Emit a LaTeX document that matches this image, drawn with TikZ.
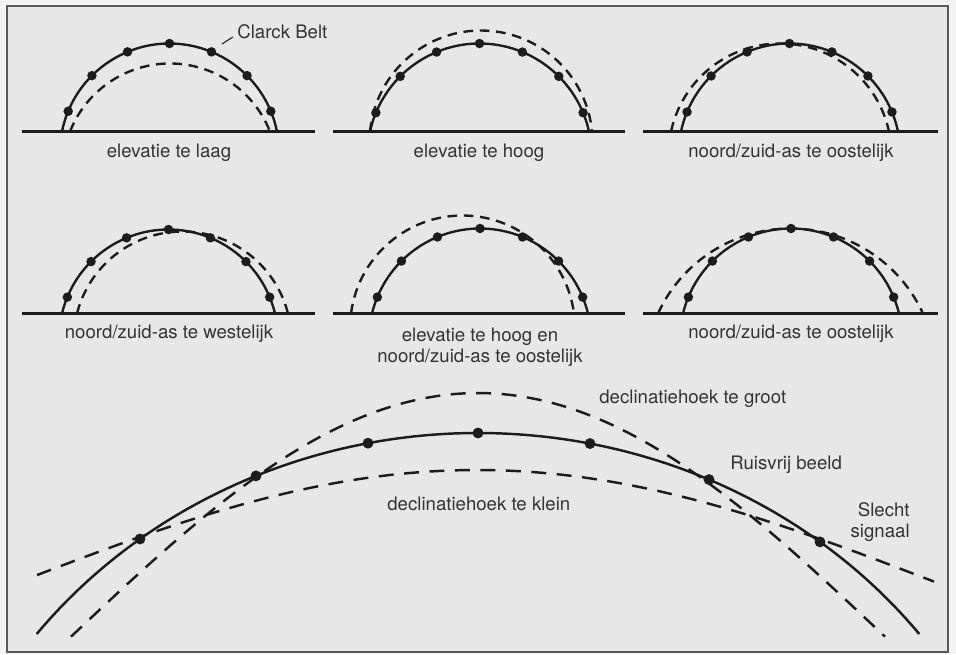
\documentclass[tikz,border=0pt]{standalone}
\usepackage{fontspec}
\setmainfont{TeX Gyre Heros}
\definecolor{Paper}{HTML}{E7E7E7}
\definecolor{Margin}{HTML}{F3F3F3}
\definecolor{Ink}{HTML}{1C1C1C}
\definecolor{Frame}{HTML}{5A5A5A}
% arc of a circle standing on a ground line: style, centre x, base y, half width, height
\newcommand{\orbit}[5]{%
  \pgfmathsetmacro{\orbR}{(#4/#5*#4+#5)/2}%
  \pgfmathsetmacro{\orbT}{atan((\orbR-#5)/#4)}%
  \draw[#1] (#2-#4,#3) arc[start angle=180+\orbT,end angle=360-\orbT,radius=\orbR];}
% the belt itself with its satellites
\newcommand{\belt}[4]{%
  \orbit{belt}{#1}{#2}{#3}{#4}%
  \foreach \ang in {202.5,225,...,337.5}
    \fill[Ink] (#1,#2+\orbR-#4) ++(\ang:\orbR) circle[radius=2.7pt];}
\begin{document}
\begin{tikzpicture}[x=0.02cm,y=-0.02cm,
belt/.style={draw=Ink,line width=1.35pt},
offset/.style={draw=Ink,line width=1.35pt,dash pattern=on 5.5pt off 3.8pt},
wide offset/.style={draw=Ink,line width=1.4pt,dash pattern=on 8.5pt off 6pt},
ground/.style={draw=Ink,line width=1.2pt},
lbl/.style={text=Ink!90,font=\fontsize{10.6}{11.4}\selectfont,inner sep=0pt}]
\useasboundingbox (0,0) rectangle (956,654);
\fill[Margin] (0,0) rectangle (956,654);
\filldraw[fill=Paper,draw=Frame,line width=0.6pt] (7,6) rectangle (948,652);
% ground lines of the six small panels
\foreach \y in {131.5,313.5}{
  \draw[ground] (22,\y) -- (315,\y);
  \draw[ground] (333,\y) -- (625,\y);
  \draw[ground] (643,\y) -- (938,\y);}
% top row
\orbit{offset}{170}{131.5}{100}{68}
\belt{169.5}{131.5}{107.5}{88}
\orbit{offset}{481}{131.5}{111}{101}
\belt{479.5}{131.5}{109.5}{88}
\orbit{offset}{780}{131.5}{109}{88}
\belt{789.5}{131.5}{108.5}{88}
% middle row
\orbit{offset}{182.5}{313.5}{105.5}{82}
\belt{168.5}{313.5}{106.5}{84}
\orbit{offset}{462.5}{313.5}{111.5}{98}
\belt{480}{313.5}{108}{85}
\orbit{offset}{790.5}{313.5}{132.5}{85}
\belt{791}{313.5}{108}{85}
\node[lbl,anchor=base west] (clarck) at (237,38) {Clarck Belt};
\coordinate (beltpt) at (222,44);
\draw[Ink,line width=0.6pt] (beltpt) -- ([xshift=-2.3pt,yshift=0.6pt]clarck.base west);
\node[lbl,anchor=base] (laag) at (169,157) {elevatie te laag};
\node[lbl,anchor=base] (hoog) at (479,157) {elevatie te hoog};
\node[lbl,anchor=base] (oost) at (791,157) {noord/zuid-as te oostelijk};
\node[lbl,anchor=base] (west) at (169,338) {noord/zuid-as te westelijk};
\node[lbl,anchor=base,align=center] (hoogoost) at (480,362) {elevatie te hoog en\\noord/zuid-as te oostelijk};
\node[lbl,anchor=base] (oost2) at (791,338) {noord/zuid-as te oostelijk};
% large panel
\draw[wide offset] plot[domain=71:885,samples=90] (\x,{393+245*(1-cos(deg((\x-478)/260)))});
\draw[wide offset] plot[domain=37:934,samples=90] (\x,{470+111*(1-cos(deg((\x-477)/290)))});
\draw[belt,line width=1.4pt] (36.7,634) arc[start angle=218,end angle=322,x radius=560,y radius=523];
\foreach \x in {140,256,368,478,590,709,820}
  \fill[Ink] (\x,{956-523*sqrt(1-((\x-478)/560)^2)}) circle[radius=3.1pt];
\node[lbl,anchor=base west] (groot) at (599,403) {declinatiehoek te groot};
\node[lbl,anchor=base west] (ruis) at (730,469) {Ruisvrij beeld};
\node[lbl,anchor=base west] (klein) at (387,510) {declinatiehoek te klein};
\node[lbl,anchor=base east,align=right] (slecht) at (910,537) {Slecht\\signaal};
\end{tikzpicture}
\end{document}
